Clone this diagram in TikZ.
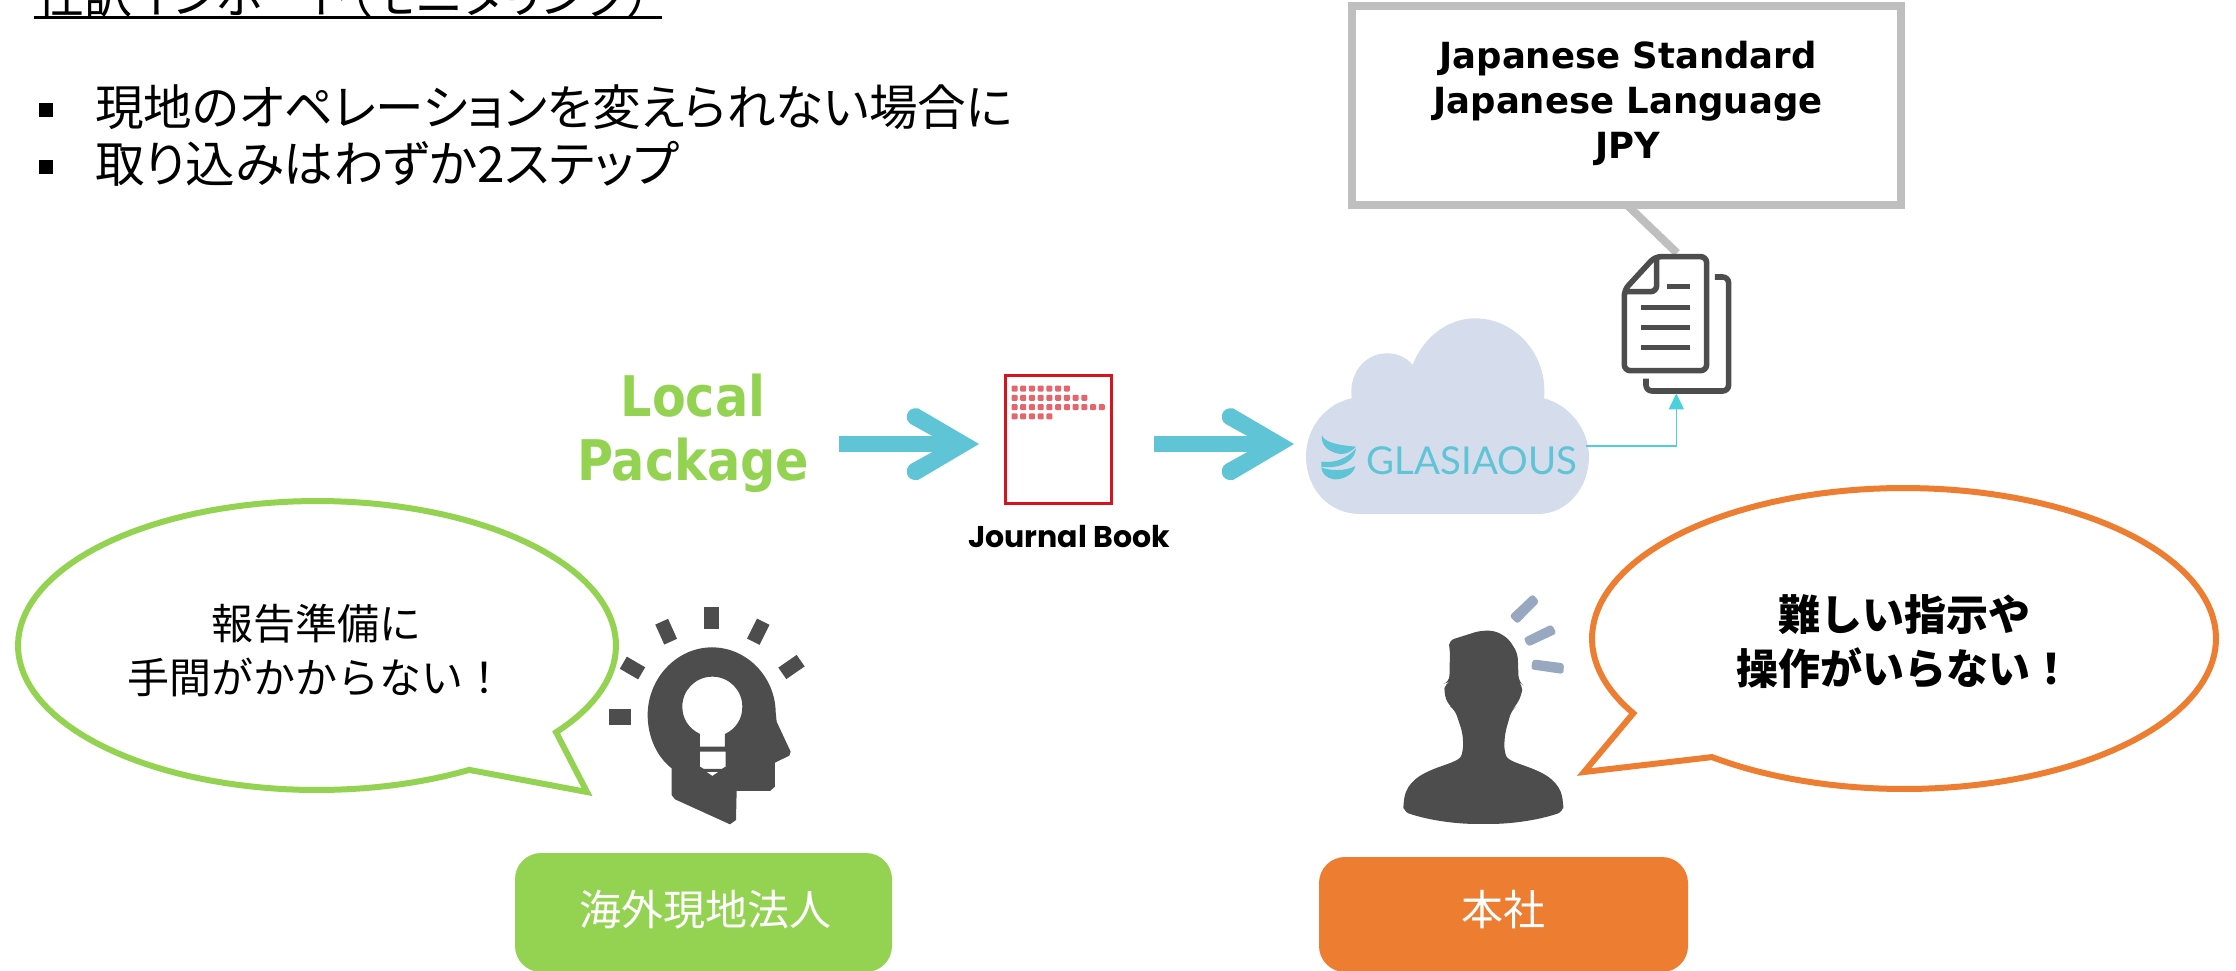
\documentclass[tikz,border=0pt]{standalone}
\usepackage{fontspec}
\usetikzlibrary{arrows.meta}
\newfontfamily\jp[RawFeature=+palt]{Noto Sans CJK JP}
\newfontfamily\jpf{Noto Sans CJK JP}
\newfontfamily\lbold[FakeStretch=0.88]{DejaVu Sans}
\newfontfamily\lboldw[FakeStretch=0.985]{DejaVu Sans}
\newfontfamily\jbfont{Poppins}
\newfontfamily\glfont{Lato}
\definecolor{grn}{HTML}{94D352}
\definecolor{org}{HTML}{ED7D31}
\definecolor{cyanb}{HTML}{5FC4D6}
\definecolor{dk}{HTML}{4D4D4D}
\definecolor{raygray}{HTML}{98A8C0}
\definecolor{cloudc}{HTML}{D5DCEB}
\definecolor{gr}{HTML}{BFBFBF}
\definecolor{redb}{HTML}{D7141E}
\definecolor{redd}{HTML}{E4666C}
\tikzset{
  txt/.style={inner sep=0pt,outer sep=0pt},
  bubble/.style={line width=3pt,fill=white,line join=miter,miter limit=10},
  tagbox/.style={rounded corners=13pt,draw=none},
  shaft/.style={draw=cyanb,line width=8pt},
  headfill/.style={fill=cyanb},
  ray/.style={draw=dk,line width=#1},
  docline/.style={draw=dk,line width=2.8pt,line cap=round,line join=round,rounded corners=3pt},
  docrule/.style={draw=dk,line width=2.5pt},
}
\newcommand{\arrowhead}[1]{\fill[headfill,shift={(#1)},scale=0.3333] (-140,-24) -- (-205,-60) .. controls (-225,-72) and (-220,-112) .. (-183,-107) -- (0,0) -- (-183,108) .. controls (-220,113) and (-225,73) .. (-205,60) -- (-140,24) -- cycle;}
\begin{document}
\begin{tikzpicture}[x=0.5pt,y=-0.5pt]
\useasboundingbox (0,0) rectangle (2236,970);
% heading
\node[txt,anchor=base west,font=\jp\fontsize{24}{28}\selectfont] (title) at (36,13) {仕訳インポート（モニタリング）};
\draw[line width=1.5pt] (34,17.5) -- (662,17.5);
\fill (39,103) rectangle (53,117);
\fill (39,160) rectangle (53,174);
\node[txt,anchor=base west,font=\jp\fontsize{24.3}{30}\selectfont] (b1) at (95,125) {現地のオペレーションを変えられない場合に};
\node[txt,anchor=base west,font=\jp\fontsize{24.8}{30}\selectfont] (b2) at (95,182) {取り込みはわずか2ステップ};
% callout
\draw[gr,line width=4pt] (1627,205) -- (1677,253);
\node[draw=gr,line width=4pt,fill=white,minimum width=274.5pt,minimum height=99.5pt,inner sep=0pt] (callout) at (1626.5,105.5) {};
\node[txt,align=center,font=\lboldw\bfseries\fontsize{18}{22.5}\selectfont] (calloutt) at (1628,103) {Japanese Standard\\Japanese Language\\JPY};
% local package
\node[txt,align=center,text=grn,font=\lbold\bfseries\fontsize{28}{32}\selectfont] (pkg) at (693,433) {Local\\Package};
% arrows
\coordinate (a1s) at (839,444); \coordinate (a1e) at (979,444);
\coordinate (a2s) at (1154,444); \coordinate (a2e) at (1294,444);
\draw[shaft,shorten >=10pt] (a1s) -- (a1e);
\arrowhead{a1e}
\draw[shaft,shorten >=10pt] (a2s) -- (a2e);
\arrowhead{a2e}
% journal book
\node[draw=redb,line width=1.5pt,fill=white,minimum width=53pt,minimum height=64pt,inner sep=0pt] (jb) at (1058,439) {};
\foreach \row/\n in {0/7,1/9,2/11,3/5}{
  \foreach \i in {1,...,\n}{
    \fill[redd,rounded corners=0.5pt] ({1011.5+(\i-1)*8.73},{385.5+\row*9.3}) rectangle +(6,6);
  }
}
\node[txt,anchor=base,font=\jbfont\bfseries\fontsize{15}{17}\selectfont] (jbl) at (1069,547) {Journal Book};
% cloud
\begin{scope}[shift={(1290,230)},scale=0.3333]
\fill[cloudc] (210,852) .. controls (115,852) and (48,775) .. (48,680) .. controls (48,590) and (110,520) .. (185,505)
 .. controls (175,430) and (225,370) .. (290,370) .. controls (322,370) and (350,382) .. (368,405)
 .. controls (400,320) and (475,265) .. (555,265) .. controls (680,265) and (775,380) .. (762,505)
 .. controls (840,525) and (897,600) .. (897,680) .. controls (897,775) and (830,852) .. (745,852) -- cycle;
\end{scope}
% logo
\begin{scope}[shift={(1312,430)},scale=0.3333]
\fill[cyanb] (30,15) .. controls (35,35) and (70,45) .. (132,50) .. controls (115,68) and (100,72) .. (85,72) .. controls (55,68) and (25,50) .. (30,15) -- cycle;
\fill[cyanb] (28,95) .. controls (70,100) and (105,85) .. (132,55) .. controls (130,90) and (90,118) .. (28,110) -- cycle;
\fill[cyanb] (28,112) .. controls (50,122) and (100,125) .. (130,108) .. controls (125,135) and (90,150) .. (65,148) .. controls (45,145) and (28,130) .. (28,112) -- cycle;
\end{scope}
\node[txt,text=cyanb,font=\glfont\fontsize{19.2}{22}\selectfont] (gl) at (1472,461) {GLASIAOUS};
% doc icon
\begin{scope}[shift={(1290,230)},scale=0.3333]
\draw[docline] (1095,80) -- (1250,80) -- (1250,422) -- (1003,422) -- (1003,180) -- cycle;
\draw[docline] (1100,85) -- (1100,185) -- (1010,185);
\draw[docrule] (1130,170) -- (1200,170);
\draw[docrule] (1052,231) -- (1200,231);
\draw[docrule] (1052,292) -- (1200,292);
\draw[docrule] (1052,354) -- (1200,354);
\draw[docline,line cap=butt] (1275,141) -- (1316,141) -- (1316,483) -- (1068,483) -- (1068,446);
\coordinate (docin) at (1159,490);
\end{scope}
\coordinate (cloudout) at (1586,446);
\draw[draw=cyanb!80!cyan,line width=0.75pt,-{Triangle[length=8pt,width=7.5pt]}] (cloudout) -| (docin);
% bubbles
\draw[bubble,draw=grn] plot[domain=59.4:396.9,samples=140] ({317+299*cos(\x)},{645.5+144.5*sin(\x)}) -- (587,792) -- cycle;
\node[txt,align=center,font=\jpf\fontsize{21}{27}\selectfont] (bl) at (316,650) {報告準備に\\手間がかからない！};
\draw[bubble,draw=org] plot[domain=128:-209.8,samples=140] ({1904+312*cos(\x)},{638.5+150.5*sin(\x)}) -- (1584,772) -- cycle;
\node[txt,align=center,font=\jpf\bfseries\fontsize{21}{27}\selectfont] (br) at (1904,642) {難しい指示や\\操作がいらない！};
% thinker icon
\begin{scope}[shift={(580,590)},scale=0.3333]
\fill[dk,even odd rule] (275,535) .. controls (230,500) and (203,440) .. (203,375) .. controls (203,265) and (290,172) .. (396,172) .. controls (500,172) and (585,260) .. (587,365) -- (590,395) -- (632,485) -- (628,497) -- (585,518) -- (585,590) -- (570,603) -- (470,603) -- (468,690) -- (450,703) -- (285,628) -- (275,615) -- cycle
 (360,470) -- (360,432) .. controls (325,415) and (307,385) .. (307,350) .. controls (307,300) and (347,260) .. (397,260) .. controls (447,260) and (487,300) .. (487,350) .. controls (487,385) and (470,415) .. (435,432) -- (435,470) -- cycle
 (360,485) -- (437,485) -- (437,530) -- (425,537) -- (372,537) -- (360,530) -- cycle
 (380,546) -- (415,546) -- (397,558) -- cycle;
\draw[ray=15pt*0.5] (396,52) -- (396,118);
\draw[ray=14pt*0.5] (245,95) -- (272,155);
\draw[ray=14pt*0.5] (130,218) -- (185,250);
\draw[ray=16pt*0.5] (88,380) -- (152,380);
\draw[ray=14pt*0.5] (550,95) -- (520,155);
\draw[ray=14pt*0.5] (662,212) -- (607,250);
\end{scope}
% person icon
\begin{scope}[shift={(1380,570)},scale=0.3333]
\fill[dk,rounded corners=3pt] (205,212) -- (300,182) -- (345,182) -- (385,205) -- (413,250) -- (416,335) -- (428,345) -- (425,375) -- (405,412) -- (395,420) -- (375,490) -- (372,540)
 .. controls (390,590) and (530,590) .. (550,700) -- (550,725) .. controls (470,752) and (390,762) .. (310,762) .. controls (230,762) and (150,752) .. (70,725) -- (70,700) .. controls (90,590) and (232,590) .. (250,540)
 -- (248,490) -- (225,420) -- (205,405) -- (192,370) -- (195,340) -- (208,335) -- (210,240) -- cycle;
\fill[raygray,rounded corners=1.5pt] (388,138) -- (458,72) -- (478,95) -- (412,162) -- cycle;
\fill[raygray,rounded corners=1.5pt] (430,205) -- (515,163) -- (530,190) -- (445,230) -- cycle;
\fill[raygray,rounded corners=1.5pt] (458,268) -- (552,280) -- (550,312) -- (453,298) -- cycle;
\end{scope}
% tags
\node[tagbox,fill=grn,minimum width=188.5pt,minimum height=59.5pt,inner sep=0pt] (tagl) at (703.5,912.5) {};
\node[tagbox,fill=org,minimum width=184.5pt,minimum height=57.5pt,inner sep=0pt] (tagr) at (1503.5,914.5) {};
\node[txt,anchor=base,text=white,font=\jp\fontsize{21}{25}\selectfont] (tagl-t) at (705,925) {海外現地法人};
\node[txt,anchor=base,text=white,font=\jp\fontsize{21}{25}\selectfont] (tagr-t) at (1503,925) {本社};
\end{tikzpicture}
\end{document}
